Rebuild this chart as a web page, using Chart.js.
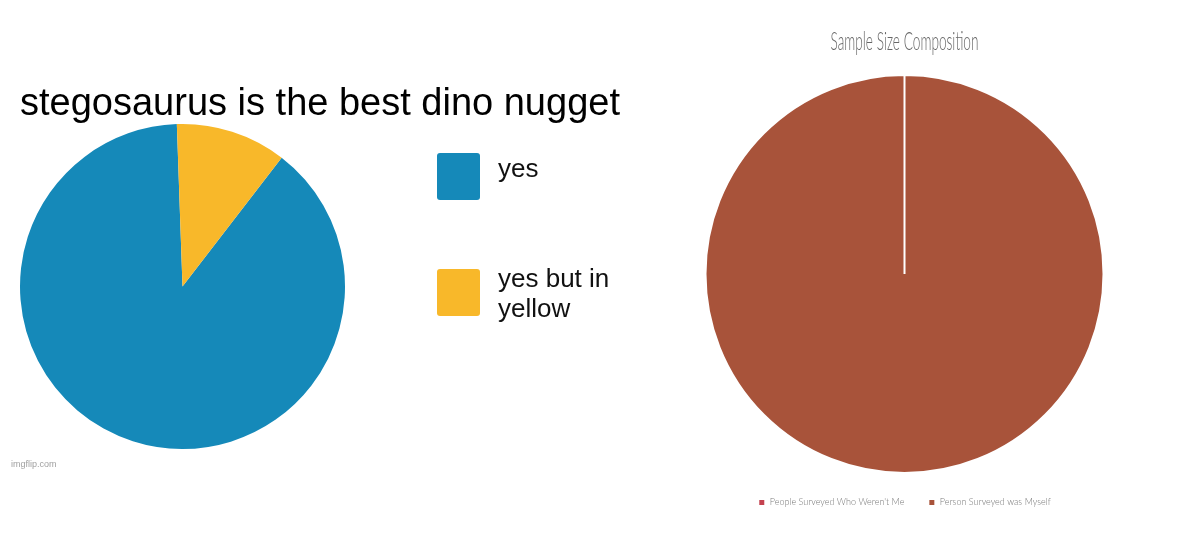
<!DOCTYPE html>
<html>
<head>
<meta charset="utf-8">
<script src="https://cdn.jsdelivr.net/npm/chart.js@4/dist/chart.umd.min.js"></script>
<style>
  html, body { margin: 0; padding: 0; background: #ffffff; }
  body { width: 1184px; height: 535px; position: relative; overflow: hidden; }
  #memeChart { position: absolute; left: 0; top: 0; }
  #sampleChart { position: absolute; left: 625px; top: 0; }
</style>
</head>
<body>
<canvas id="memeChart" width="640" height="535"></canvas>
<canvas id="sampleChart" width="559" height="535"></canvas>
<script>
// ---- Left chart (meme pie) ----
const memeTitle = "stegosaurus is the best dino nugget";
const memeLabels = ["yes", "yes but in yellow"];
const memeValues = [89, 11];
const memeColors = ["#1589B9", "#F8B82A"];
const memeWatermark = "imgflip.com";

// ---- Right chart (sample size) ----
const sampleTitle = "Sample Size Composition";
const sampleLabels = ["People Surveyed Who Weren't Me", "Person Surveyed was Myself"];
const sampleValues = [0, 1];
const sampleColors = ["#C4424F", "#A8533A"];

const SANS = 'Arial, "Liberation Sans", sans-serif';
const THIN = 'Lato, "Open Sans", sans-serif';

// Side legend for the meme chart: reserves a right-hand layout box, draws wrapped labels
const sideLegend = {
  id: 'sideLegend',
  beforeInit(chart, args, opts) {
    const w = (opts && opts.width) || 295;
    const box = {
      position: 'right', weight: 0, fullSize: false,
      options: {},
      left: 0, top: 0, right: 0, bottom: 0, width: 0, height: 0,
      isHorizontal() { return false; },
      update(maxW, maxH) { this.width = w; this.height = maxH; },
      draw() {}
    };
    Chart.layouts.addBox(chart, box);
  },
  afterDraw(chart, args, opts) {
    const ctx = chart.ctx;
    const ds = chart.data.datasets[0];
    ctx.save();
    ctx.font = opts.font;
    ctx.textBaseline = 'alphabetic';
    ctx.textAlign = 'left';
    chart.data.labels.forEach((label, i) => {
      const bx = opts.x, by = opts.y + i * opts.step;
      ctx.fillStyle = ds.backgroundColor[i];
      ctx.beginPath();
      ctx.roundRect(bx, by, opts.boxW, opts.boxH, 3);
      ctx.fill();
      const words = label.split(' ');
      const lines = [];
      let cur = '';
      words.forEach(w => {
        const t = cur ? cur + ' ' + w : w;
        if (ctx.measureText(t).width > opts.maxWidth && cur) { lines.push(cur); cur = w; }
        else cur = t;
      });
      if (cur) lines.push(cur);
      ctx.fillStyle = '#111';
      const base = by + 24 - (lines.length - 1) * 6;
      lines.forEach((ln, j) => ctx.fillText(ln, opts.textX, base + j * opts.lineH));
    });
    ctx.font = '9px ' + SANS;
    ctx.fillStyle = '#a0a0a0';
    ctx.fillText(memeWatermark, 11, 467);
    ctx.restore();
  }
};

// Condensed title for the right chart (the original uses a tall, narrow display face)
const condensedTitle = {
  id: 'condensedTitle',
  afterDraw(chart, args, opts) {
    const ctx = chart.ctx;
    ctx.save();
    ctx.font = opts.font;
    ctx.fillStyle = opts.color;
    ctx.textAlign = 'center';
    ctx.textBaseline = 'alphabetic';
    const cx = (chart.chartArea.left + chart.chartArea.right) / 2;
    ctx.fillText(opts.text, cx, opts.baseline, opts.maxWidth);
    ctx.restore();
  }
};

new Chart(document.getElementById('memeChart'), {
  type: 'pie',
  data: {
    labels: memeLabels,
    datasets: [{
      data: memeValues,
      backgroundColor: memeColors,
      borderWidth: 0
    }]
  },
  options: {
    responsive: false,
    devicePixelRatio: 1,
    animation: false,
    rotation: 37.6,
    layout: { padding: { left: 20, right: 0, top: 0, bottom: 86 } },
    plugins: {
      legend: { display: false },
      tooltip: { enabled: false },
      title: {
        display: true,
        text: memeTitle,
        align: 'start',
        color: '#000000',
        font: { family: SANS, size: 38, weight: 400, lineHeight: 1.0 },
        padding: { top: 86, bottom: 0 }
      },
      sideLegend: {
        width: 295,
        x: 437, y: 153, step: 116, boxW: 43, boxH: 47,
        textX: 498, lineH: 30, maxWidth: 130,
        font: '26px ' + SANS
      }
    }
  },
  plugins: [sideLegend]
});

new Chart(document.getElementById('sampleChart'), {
  type: 'pie',
  data: {
    labels: sampleLabels,
    datasets: [{
      data: sampleValues,
      backgroundColor: sampleColors,
      borderColor: '#ffffff',
      borderWidth: 2
    }]
  },
  options: {
    responsive: false,
    devicePixelRatio: 1,
    animation: false,
    layout: { padding: { left: 0, right: 0, top: 74, bottom: 18 } },
    plugins: {
      tooltip: { enabled: false },
      title: { display: false },
      condensedTitle: {
        text: sampleTitle,
        font: '300 25px ' + THIN,
        color: '#666666',
        baseline: 50,
        maxWidth: 148
      },
      legend: {
        position: 'bottom',
        labels: {
          boxWidth: 7,
          boxHeight: 7,
          padding: 24,
          color: '#777777',
          font: { family: THIN, size: 9, weight: 300 }
        }
      }
    }
  },
  plugins: [condensedTitle]
});
</script>
</body>
</html>
